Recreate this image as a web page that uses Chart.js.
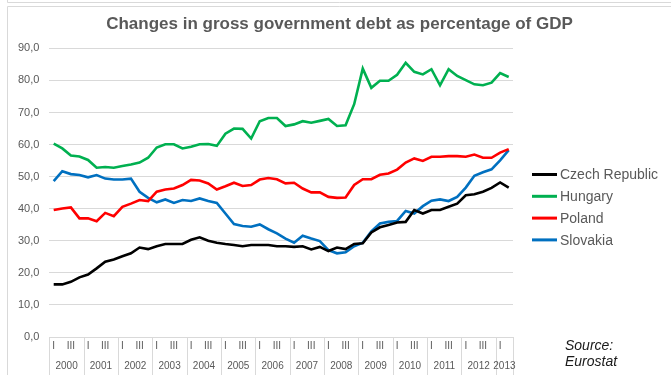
<!DOCTYPE html>
<html lang="en">
<head>
    <meta charset="UTF-8">
    <title>Gross government debt, % of GDP</title>
    <style>
        body {
            margin: 0;
            background: #ffffff;
        }
        #wrap {
            width: 671px;
            height: 375px;
        }
    </style>
</head>
<body>
    <div id="wrap"><canvas id="debtChart" width="671" height="375"></canvas></div>

    <script src="https://cdn.jsdelivr.net/npm/chart.js"></script>
    <script>
        // Quarterly series, 2000 Q1 .. 2013 Q2
        const years = ['2000', '2001', '2002', '2003', '2004', '2005', '2006',
                       '2007', '2008', '2009', '2010', '2011', '2012', '2013'];
        const quarterNames = ['I', 'II', 'III', 'IV'];
        const quartersInLastYear = 2;

        const czech = [16.4, 16.4, 17.2, 18.6, 19.5, 21.4, 23.5, 24.2, 25.2, 26.1, 27.9, 27.4,
                       28.3, 29.0, 29.0, 29.0, 30.3, 31.1, 30.0, 29.4, 29.0, 28.7, 28.3, 28.7,
                       28.7, 28.7, 28.3, 28.3, 28.1, 28.3, 27.3, 28.1, 26.8, 27.9, 27.4, 29.0,
                       29.2, 32.6, 34.2, 34.9, 35.7, 35.9, 39.6, 38.5, 39.6, 39.6, 40.6, 41.6,
                       44.2, 44.5, 45.3, 46.5, 48.2, 46.6];
        const hungary = [60.3, 58.8, 56.6, 56.3, 55.2, 52.8, 53.0, 52.8, 53.3, 53.8, 54.4, 55.9,
                         59.1, 60.1, 60.1, 58.8, 59.3, 60.1, 60.2, 59.6, 63.4, 65.0, 64.9, 61.9,
                         67.3, 68.3, 68.3, 65.8, 66.3, 67.3, 66.8, 67.4, 68.0, 65.8, 66.0, 72.6,
                         83.7, 77.7, 79.9, 79.9, 81.8, 85.5, 82.7, 81.9, 83.5, 78.5, 83.5, 81.4,
                         80.1, 78.8, 78.5, 79.3, 82.3, 81.1];
        const poland = [39.6, 40.1, 40.4, 37.0, 37.0, 36.1, 38.7, 37.7, 40.6, 41.6, 42.7, 42.4,
                        45.3, 46.0, 46.3, 47.4, 49.0, 48.8, 47.9, 46.0, 47.0, 48.1, 47.1, 47.4,
                        49.1, 49.6, 49.2, 47.9, 48.1, 46.3, 45.1, 45.1, 43.7, 43.4, 43.5, 47.4,
                        49.2, 49.2, 50.6, 51.0, 52.2, 54.4, 55.7, 54.9, 56.2, 56.2, 56.4, 56.4,
                        56.2, 56.9, 55.9, 55.9, 57.5, 58.6];
        const slovakia = [48.6, 51.7, 50.8, 50.5, 49.8, 50.5, 49.4, 49.1, 49.1, 49.4, 45.3, 43.4,
                          42.0, 42.9, 41.8, 42.7, 42.4, 43.2, 42.4, 41.8, 38.5, 35.2, 34.6, 34.4,
                          35.1, 33.6, 32.3, 30.7, 29.4, 31.6, 30.7, 29.9, 27.1, 26.1, 26.4, 28.3,
                          29.4, 32.9, 35.4, 35.9, 36.2, 39.3, 38.5, 40.8, 42.5, 42.9, 42.4, 43.7,
                          46.6, 50.3, 51.4, 52.3, 55.1, 58.3];

        const yTicks = [0, 10, 20, 30, 40, 50, 60, 70, 80, 90];

        // one label per quarter, plus the year each quarter belongs to
        const quarterLabels = [];
        const quarterYear = [];
        years.forEach((yr, yi) => {
            const n = yi === years.length - 1 ? quartersInLastYear : 4;
            for (let q = 0; q < n; q++) {
                quarterLabels.push(quarterNames[q]);
                quarterYear.push(yi);
            }
        });

        const FONT = '"Liberation Sans", Arial, sans-serif';
        const GREY_TEXT = '#595959';
        const GRID = '#d9d9d9';

        // Frame, year row under the axis, legend and source note
        const decorPlugin = {
            id: 'decor',
            afterDraw(chart) {
                const ctx = chart.ctx;
                const x = chart.scales.x;
                const area = chart.chartArea;
                const H = chart.height;
                const step = x.getPixelForValue(1) - x.getPixelForValue(0);

                ctx.save();
                ctx.strokeStyle = GRID;
                ctx.lineWidth = 1;
                ctx.beginPath();
                ctx.moveTo(7.5, 0);
                ctx.lineTo(7.5, 2.5);
                ctx.lineTo(chart.width, 2.5);
                ctx.moveTo(chart.width, 6.5);
                ctx.lineTo(7.5, 6.5);
                ctx.lineTo(7.5, H);
                ctx.stroke();

                // year separators and year names
                ctx.font = '10px ' + FONT;
                ctx.fillStyle = GREY_TEXT;
                ctx.textAlign = 'center';
                ctx.textBaseline = 'middle';
                let start = 0;
                years.forEach((yr, yi) => {
                    let end = start;
                    while (end + 1 < quarterYear.length && quarterYear[end + 1] === yi) end++;
                    const left = x.getPixelForValue(start) - step / 2;
                    const right = x.getPixelForValue(end) + step / 2;
                    ctx.beginPath();
                    ctx.moveTo(Math.round(left) + 0.5, area.bottom);
                    ctx.lineTo(Math.round(left) + 0.5, H);
                    if (yi === years.length - 1) {
                        ctx.moveTo(Math.round(right) + 0.5, area.bottom);
                        ctx.lineTo(Math.round(right) + 0.5, H);
                    }
                    ctx.stroke();
                    ctx.fillText(yr, (left + right) / 2, 366);
                    start = end + 1;
                });

                // legend
                ctx.font = '14px ' + FONT;
                ctx.textAlign = 'left';
                chart.data.datasets.forEach((ds, i) => {
                    const ly = 174.5 + i * 21.8;
                    ctx.strokeStyle = ds.borderColor;
                    ctx.lineWidth = 3;
                    ctx.beginPath();
                    ctx.moveTo(532, ly);
                    ctx.lineTo(557, ly);
                    ctx.stroke();
                    ctx.fillStyle = GREY_TEXT;
                    ctx.fillText(ds.label, 560, ly + 1);
                });

                // source note
                ctx.font = 'italic 14px ' + FONT;
                ctx.fillStyle = '#1a1a1a';
                ctx.fillText('Source:', 565, 346);
                ctx.fillText('Eurostat', 565, 362);
                ctx.restore();
            }
        };

        const makeSet = (label, data, color) => ({
            label: label,
            data: data,
            borderColor: color,
            backgroundColor: color,
            borderWidth: 2.6,
            pointRadius: 0,
            tension: 0,
            yAxisID: 'y'
        });

        const ctx = document.getElementById('debtChart').getContext('2d');
        const debtChart = new Chart(ctx, {
            type: 'line',
            data: {
                labels: quarterLabels,
                datasets: [
                    makeSet('Czech Republic', czech, '#000000'),
                    makeSet('Hungary', hungary, '#00b050'),
                    makeSet('Poland', poland, '#ff0000'),
                    makeSet('Slovakia', slovakia, '#0070c0')
                ]
            },
            options: {
                responsive: false,
                animation: false,
                layout: {
                    padding: { left: 8, right: 0, top: 10, bottom: 0 }
                },
                plugins: {
                    legend: { display: false },
                    tooltip: { enabled: false },
                    title: {
                        display: true,
                        text: 'Changes in gross government debt as percentage of GDP',
                        color: GREY_TEXT,
                        font: { family: FONT, size: 17, weight: 'bold' },
                        padding: { top: 4, bottom: 14 }
                    }
                },
                scales: {
                    x: {
                        type: 'category',
                        offset: true,
                        grid: { display: false, drawTicks: false },
                        border: { display: true, color: GRID, width: 1 },
                        ticks: {
                            autoSkip: false,
                            maxRotation: 0,
                            padding: 3,
                            color: GREY_TEXT,
                            font: { family: FONT, size: 10 },
                            callback: (val, idx) => (idx % 2 === 0 ? quarterLabels[idx] : '')
                        },
                        afterFit: scale => { scale.height = 38; }
                    },
                    y: {
                        position: 'left',
                        min: yTicks[0],
                        max: yTicks[yTicks.length - 1],
                        afterBuildTicks: scale => {
                            scale.ticks = yTicks.map(v => ({ value: v }));
                        },
                        grid: { color: GRID, lineWidth: 1, drawTicks: false },
                        border: { display: false },
                        ticks: {
                            padding: 10,
                            color: GREY_TEXT,
                            font: { family: FONT, size: 11 },
                            callback: v => v.toFixed(1).replace('.', ',')
                        }
                    },
                    // empty right-hand axis that reserves room for the legend
                    side: {
                        type: 'linear',
                        position: 'right',
                        grid: { display: false },
                        border: { display: false },
                        ticks: { display: false },
                        afterFit: scale => { scale.width = 158; }
                    }
                }
            },
            plugins: [decorPlugin]
        });
    </script>
</body>
</html>
